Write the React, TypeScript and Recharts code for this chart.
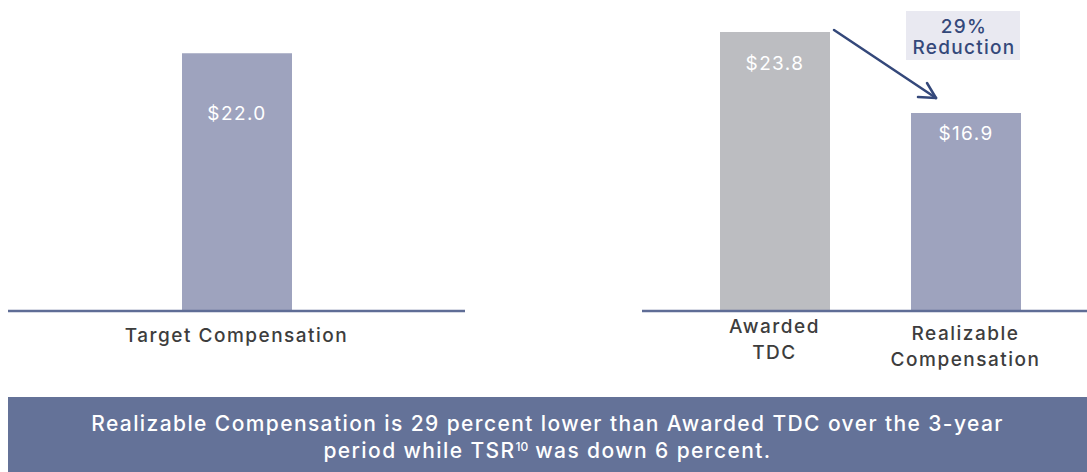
import { BarChart, Bar, XAxis, YAxis, Cell, LabelList } from "recharts";

// target chart
const targetCategories = ["Target Compensation"];
const targetValues = [22.0];

// awarded vs realizable
const realizedCategories = ["Awarded TDC", "Realizable Compensation"];
const realizedValues = [23.8, 16.9];
const realizedTickLines = [["Awarded", "TDC"], ["Realizable", "Compensation"]];

const valueLabels = (vals: number[]) => vals.map(v => "$" + v.toFixed(1));

const FONT = "Inter, 'Noto Sans', sans-serif";
const AXIS_COLOR = "#5f6d96";
const BAR_BLUE = "#9ea3be";
const BAR_GRAY = "#bcbdc1";
const NAVY = "#34487a";

const targetData = targetCategories.map((name, i) => ({
  name,
  value: targetValues[i],
  label: valueLabels(targetValues)[i],
}));

const realizedData = realizedCategories.map((name, i) => ({
  name,
  value: realizedValues[i],
  label: valueLabels(realizedValues)[i],
}));

function makeValueLabel(offsets: number[]) {
  return (props: any) => {
    const { x, y, width, index, value } = props;
    return (
      <text
        x={x + width / 2}
        y={y + offsets[index]}
        textAnchor="middle"
        fill="#ffffff"
        fontFamily={FONT}
        fontSize={19}
        letterSpacing={1.4}
      >
        {value}
      </text>
    );
  };
}

function makeTick(linesFor: (v: string, i: number) => string[], starts: number[]) {
  return (props: any) => {
    const { x, y, payload, index } = props;
    const lines = linesFor(payload.value, index);
    return (
      <text
        x={x}
        y={y}
        textAnchor="middle"
        fill="#3d3d3d"
        fontFamily={FONT}
        fontSize={19}
        fontWeight={500}
        letterSpacing={1.5}
      >
        {lines.map((l, i) => (
          <tspan key={i} x={x} dy={i === 0 ? starts[index] : 26}>
            {l}
          </tspan>
        ))}
      </text>
    );
  };
}

export default function App() {
  return (
    <div style={{ position: "absolute", left: 0, top: 0, width: 1087, height: 472, background: "#fff" }}>
      {/* left: target */}
      <div style={{ position: "absolute", left: 0, top: 0 }}>
        <BarChart width={466} height={390} data={targetData} margin={{ top: 18, right: 1, bottom: 0, left: 8 }}>
          <XAxis
            dataKey="name"
            height={79}
            tickLine={false}
            tickSize={0}
            tickMargin={0}
            axisLine={{ stroke: AXIS_COLOR, strokeWidth: 2.5 }}
            tick={makeTick(v => [v], [31])}
            interval={0}
          />
          <YAxis hide domain={[0, 25]} />
          <Bar dataKey="value" barSize={110} fill={BAR_BLUE} isAnimationActive={false}>
            <LabelList dataKey="label" content={makeValueLabel([67])} />
          </Bar>
        </BarChart>
      </div>

      {/* right: awarded vs realizable */}
      <div style={{ position: "absolute", left: 600, top: 0 }}>
        <BarChart width={487} height={390} data={realizedData} margin={{ top: 18, right: 0, bottom: 0, left: 42 }}>
          <XAxis
            dataKey="name"
            height={79}
            padding={{ left: 37, right: 26 }}
            tickLine={false}
            tickSize={0}
            tickMargin={0}
            axisLine={{ stroke: AXIS_COLOR, strokeWidth: 2.5 }}
            tick={makeTick((_, i) => realizedTickLines[i], [22, 29])}
            interval={0}
          />
          <YAxis hide domain={[0, 25]} />
          <Bar dataKey="value" barSize={110} isAnimationActive={false}>
            {realizedData.map((_, i) => (
              <Cell key={i} fill={i === 0 ? BAR_GRAY : BAR_BLUE} />
            ))}
            <LabelList dataKey="label" content={makeValueLabel([38, 27])} />
          </Bar>
        </BarChart>
      </div>

      {/* reduction callout */}
      <svg width={1087} height={472} style={{ position: "absolute", left: 0, top: 0, pointerEvents: "none" }}>
        <rect x={906} y={11} width={114} height={49} fill="#e9e9f1" />
        <text x={964} y={33} textAnchor="middle" fill={NAVY} fontFamily={FONT} fontSize={19} fontWeight={500} letterSpacing={1.3}>
          29%
        </text>
        <text x={964} y={54} textAnchor="middle" fill={NAVY} fontFamily={FONT} fontSize={19} fontWeight={500} letterSpacing={1.3}>
          Reduction
        </text>
        <g stroke={NAVY} strokeWidth={2.5} strokeLinecap="round" fill="none">
          <line x1={834} y1={30} x2={936} y2={98} />
          <line x1={918} y1={97} x2={936} y2={98} />
          <line x1={927} y1={83} x2={936} y2={98} />
        </g>
      </svg>

      {/* footer banner */}
      <div
        style={{
          position: "absolute",
          left: 8,
          top: 397,
          width: 1079,
          height: 75,
          background: "#647298",
          color: "#fff",
          fontFamily: FONT,
          fontSize: 21,
          fontWeight: 500,
          letterSpacing: 1.4,
          lineHeight: "27px",
          textAlign: "center",
          paddingTop: 13,
          boxSizing: "border-box",
        }}
      >
        Realizable Compensation is 29 percent lower than Awarded TDC over the 3-year
        <br />
        period while TSR
        <span style={{ fontSize: 12, position: "relative", top: -7, letterSpacing: 0 }}>10</span> was down 6 percent.
      </div>
    </div>
  );
}
